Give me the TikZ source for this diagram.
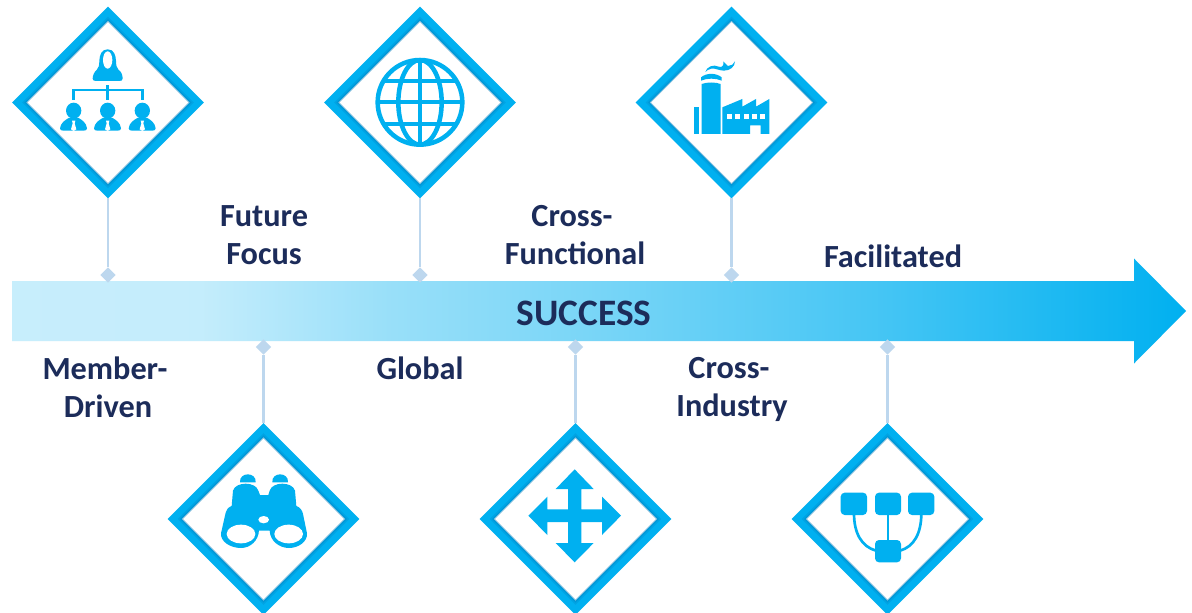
\documentclass[tikz,border=0pt]{standalone}
\usepackage{fontspec}
\setmainfont{Carlito}
\usetikzlibrary{shapes.geometric,calc}
\definecolor{skyb}{HTML}{00B0F0}
\definecolor{ringdark}{HTML}{0078B8}
\definecolor{navy}{HTML}{1C2C5A}
\definecolor{stem}{HTML}{BDD7EE}
\pgfdeclarehorizontalshading{barshade}{100bp}{
  color(0bp)=(white!78!skyb);
  color(25bp)=(white!78!skyb);
  color(33bp)=(white!77!skyb);
  color(41bp)=(white!60!skyb);
  color(50bp)=(white!47!skyb);
  color(62bp)=(white!27!skyb);
  color(75bp)=(skyb);
  color(100bp)=(skyb)}
\tikzset{
  ring/.style={shape=diamond,aspect=1,draw=skyb,fill=white,line width=7.4pt,inner sep=0pt,minimum width=136.5pt,minimum height=136.5pt,miter limit=10},
  joint/.style={shape=diamond,aspect=1,fill=stem,inner sep=0pt,outer sep=0pt,minimum width=11.6pt,minimum height=11.6pt},
  stemline/.style={draw=stem,line width=2pt},
  lab/.style={font=\fontsize{24.2}{28.5}\selectfont\bfseries,text=navy,align=center,inner sep=0pt},
  inedge/.style={draw=ringdark,line join=miter},
  icon/.style={fill=skyb,draw=none},
  iconline/.style={draw=skyb,fill=none},
  zoomed/.style={x=.25pt,y=-.25pt}
}
\begin{document}
\begin{tikzpicture}[x=.75pt,y=-.75pt]
\useasboundingbox (0,0) rectangle (1192,613);
\fill[white] (0,0) rectangle (1192,613);
% the bar
\shade[shading=barshade] (12,281) -- (1134,281) -- (1134,258.5) -- (1186,311) -- (1134,363.5) -- (1134,341) -- (12,341) -- cycle;
\node[font=\fontsize{28}{30}\selectfont\bfseries,text=navy,inner sep=0pt] (succ) at (584,313) {SUCCESS};
% diamonds
\node[ring] (m1) at (108,102.5) {};
\node[ring] (m2) at (420,102.5) {};
\node[ring] (m3) at (731.5,102.5) {};
\node[ring] (b1) at (263.5,519) {};
\node[ring] (b2) at (575.5,519) {};
\node[ring] (b3) at (887.5,519) {};
\foreach \n in {m1,m2,m3,b1,b2,b3}{
  \draw[inedge,line width=3pt,opacity=.2] ($(\n.center)+(0,-83)$) -- ($(\n.center)+(83,0)$) -- ($(\n.center)+(0,83)$) -- ($(\n.center)+(-83,0)$) -- cycle;
  \draw[inedge,line width=1.6pt,opacity=.28] ($(\n.center)+(0,-82)$) -- ($(\n.center)+(82,0)$) -- ($(\n.center)+(0,82)$) -- ($(\n.center)+(-82,0)$) -- cycle;
  \draw[white,line width=3pt] ($(\n.center)+(0,-77.2)$) -- ($(\n.center)+(77.2,0)$) -- ($(\n.center)+(0,77.2)$) -- ($(\n.center)+(-77.2,0)$) -- cycle;
}
% joints and stems
\node[joint] (j1) at (108,275) {};
\node[joint] (j2) at (420,275) {};
\node[joint] (j3) at (731.5,275) {};
\node[joint] (k1) at (263.5,347) {};
\node[joint] (k2) at (575.5,347) {};
\node[joint] (k3) at (887.5,347) {};
\draw[stemline] (m1.south) -- (j1.north);
\draw[stemline] (m2.south) -- (j2.north);
\draw[stemline] (m3.south) -- (j3.north);
\draw[stemline] (k1.south) -- (b1.north);
\draw[stemline] (k2.south) -- (b2.north);
\draw[stemline] (k3.south) -- (b3.north);
% labels
\node[lab] (t1) at (105,387) {Member-\\\hspace*{4.5pt}Driven};
\node[lab] (t2) at (264,235) {Future\\Focus};
\node[lab] (t3) at (420,368) {Global};
\node[lab] (t4) at (575,235.5) {Cross-\hspace*{4.5pt}\\Functional};
\node[lab] (t5) at (732,389) {Cross-\hspace*{4.5pt}\\Industry};
\node[lab] (t6) at (893,256) {Facilitated};
% hierarchy icon
\begin{scope}[shift={(0,0)},zoomed]
  \fill[icon] (323,148) .. controls (304,148) and (299,165) .. (298,182) .. controls (298,196) and (296,204) .. (290,210) .. controls (282,216) and (278,228) .. (278,236) .. controls (278,241) and (282,243) .. (288,243) -- (358,243) .. controls (364,243) and (368,241) .. (368,236) .. controls (368,226) and (364,214) .. (356,210) .. controls (350,204) and (348,196) .. (348,182) .. controls (347,165) and (342,148) .. (323,148) -- cycle;
  \fill[white] (323,180) ellipse [x radius=14,y radius=26];
  \draw[iconline,line width=1.8pt] (221,300) -- (221,270) -- (427,270) -- (427,300);
  \draw[iconline,line width=1.8pt] (323,256) -- (323,300);
  \foreach \cx in {221,323,427}{
    \begin{scope}[shift={(\cx,0)}]
      \fill[icon] (0,332) ellipse [x radius=23,y radius=24];
      \fill[icon] (-41,385) .. controls (-39,368) and (-25,360) .. (-15,354) -- (15,354) .. controls (25,360) and (38,368) .. (40,385) .. controls (40,390) and (36,392) .. (30,392) -- (-31,392) .. controls (-37,392) and (-41,390) .. (-41,385) -- cycle;
      \fill[white] (-5,362) -- (5,362) -- (3,370) -- (8,388) -- (0,393) -- (-8,388) -- (-3,370) -- cycle;
    \end{scope}
  }
\end{scope}
% globe icon
\begin{scope}[shift={(320,0)},zoomed]
  \draw[iconline,line width=3.4pt] (300,307) circle [radius=127];
  \begin{scope}
    \clip (300,307) circle [radius=127];
    \draw[iconline,line width=3.4pt] (300,307) ellipse [x radius=65,y radius=127];
    \draw[iconline,line width=3.4pt] (300,180) -- (300,434);
    \draw[iconline,line width=3pt] (170,307) -- (430,307);
    \draw[iconline,line width=3pt] (170,244) -- (430,244);
    \draw[iconline,line width=3pt] (170,372) -- (430,372);
  \end{scope}
\end{scope}
% factory icon
\begin{scope}[shift={(630,0)},zoomed]
  \fill[icon] (191,322) rectangle (208,402);
  \fill[icon] (215,402) -- (215,252) .. controls (230,246) and (257,246) .. (272,252) -- (272,402) -- cycle;
  \fill[icon] (213,242) -- (213,232) .. controls (230,218) and (258,218) .. (275,232) -- (275,242) .. controls (258,234) and (230,234) .. (213,242) -- cycle;
  \fill[icon] (277,402) -- (277,322) -- (337,297) -- (337,320) -- (378,297) -- (378,320) -- (418,297) -- (418,402) -- (392,402) -- (392,376) -- (360,376) -- (360,402) -- cycle;
  \foreach \wx in {290,316,341,365,390}{ \fill[white] (\wx,343) rectangle +(15,15); }
  \fill[icon] (226,216) .. controls (230,200) and (250,192) .. (266,200) .. controls (276,204) and (283,196) .. (280,184) .. controls (288,190) and (290,198) .. (294,198) .. controls (304,198) and (312,192) .. (315,184) .. controls (315,200) and (300,212) .. (282,212) .. controls (268,212) and (256,204) .. (244,206) .. controls (236,208) and (230,211) .. (226,216) -- cycle;
\end{scope}
% binoculars icon
\begin{scope}[shift={(165,420)},zoomed]
  \fill[icon] (225,187) .. controls (222,155) and (275,155) .. (272,187) -- cycle;
  \fill[icon] (322,187) .. controls (319,155) and (372,155) .. (369,187) -- cycle;
  \fill[icon] (200,258) -- (204,212) .. controls (212,184) and (272,184) .. (280,212) -- (285,225) -- (310,225) -- (314,212) .. controls (322,184) and (382,184) .. (390,212) -- (394,258) .. controls (406,262) and (412,272) .. (414,282) -- (426,340) .. controls (428,365) and (400,384) .. (372,384) .. controls (342,384) and (315,362) .. (314,332) -- (282,332) .. controls (280,362) and (256,384) .. (228,384) .. controls (196,384) and (166,365) .. (168,340) -- (182,278) .. controls (184,268) and (190,262) .. (200,258) -- cycle;
  \fill[white] (228,342) ellipse [x radius=43,y radius=28];
  \fill[white] (371,342) ellipse [x radius=43,y radius=28];
  \fill[white] (296,299) ellipse [x radius=16,y radius=11];
\end{scope}
% four-way arrow icon
\begin{scope}[shift={(480,420)},zoomed]
  \fill[icon] (284,148) -- (341,207) -- (304,207) -- (304,268) -- (366,268) -- (366,230) -- (423,287) -- (366,345) -- (366,306) -- (304,306) -- (304,369) -- (341,369) -- (284,427) -- (227,369) -- (264,369) -- (264,306) -- (202,306) -- (202,345) -- (145,287) -- (202,230) -- (202,268) -- (264,268) -- (264,207) -- (227,207) -- cycle;
\end{scope}
% flow icon
\begin{scope}[shift={(790,420)},zoomed]
  \draw[iconline,line width=2.1pt] (294,285) -- (294,362);
  \draw[iconline,line width=2pt] (192,280) .. controls (192,340) and (215,380) .. (258,392);
  \draw[iconline,line width=2pt] (394,280) .. controls (394,340) and (372,380) .. (330,392);
  \fill[icon,rounded corners=3pt] (152,218) rectangle (231,285);
  \fill[icon,rounded corners=3pt] (255,218) rectangle (333,285);
  \fill[icon,rounded corners=3pt] (354,218) rectangle (433,285);
  \fill[icon,rounded corners=3pt] (255,360) rectangle (333,427);
\end{scope}
\end{tikzpicture}
\end{document}
